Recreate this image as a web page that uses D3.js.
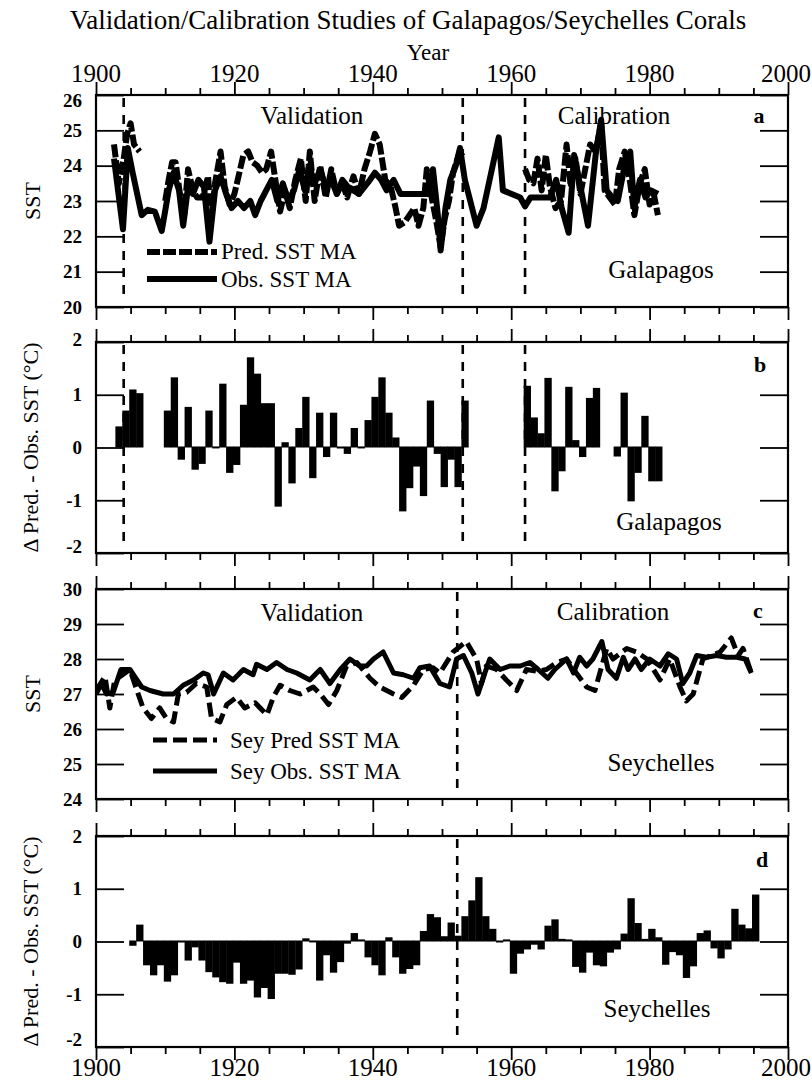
<!DOCTYPE html>
<html><head><meta charset="utf-8">
<script src="https://cdn.jsdelivr.net/npm/d3@7"></script>
<style>body{margin:0;background:#fff} svg{display:block}</style>
</head><body>
<svg id="chart" width="812" height="1082"></svg>
<script>
// ---------------- DATA ----------------
const yearTicks = [1900, 1920, 1940, 1960, 1980, 2000];
const minorYearTicks = [1905,1910,1915,1925,1930,1935,1945,1950,1955,1965,1970,1975,1985,1990,1995];
const sstTicksGal = [20, 21, 22, 23, 24, 25, 26];
const sstTicksSey = [24, 25, 26, 27, 28, 29, 30];
const diffTicks = [-2, -1, 0, 1, 2];
const galDividers = [1904, 1953, 1962];
const seyDividers = [1952.2];

// Panel a: Galapagos observed SST moving average [year, °C]
const galObs = [[1902.6,24.2],[1903.9,22.2],[1904.6,24.5],[1905.3,23.8],[1906.6,22.6],[1907.5,22.75],[1908.5,22.7],[1909.5,22.15],[1910.5,23.3],[1911.2,23.8],[1912.0,23.3],[1912.6,22.3],[1913.3,23.4],[1914.0,23.2],[1914.8,23.6],[1915.6,23.4],[1916.4,21.85],[1917.2,23.3],[1918.0,23.7],[1918.8,23.2],[1919.6,22.8],[1920.5,23.0],[1921.4,22.8],[1922.3,23.0],[1923.0,22.6],[1923.8,23.0],[1924.6,23.3],[1925.4,23.6],[1926.2,23.0],[1927.0,23.5],[1927.8,23.0],[1928.6,23.3],[1929.4,23.9],[1930.2,23.3],[1930.8,24.0],[1931.6,23.5],[1932.4,23.9],[1933.2,23.4],[1934.0,23.6],[1934.8,23.2],[1935.6,23.6],[1936.4,23.4],[1937.2,23.3],[1938.0,23.2],[1938.8,23.4],[1939.6,23.6],[1940.3,23.8],[1941.2,23.6],[1942.0,23.3],[1943.0,23.6],[1944.0,23.2],[1945.0,23.2],[1946.0,23.2],[1947.0,23.2],[1948.0,23.2],[1948.7,23.9],[1949.4,22.6],[1949.8,21.6],[1950.5,22.8],[1951.2,23.6],[1952.0,24.0],[1952.6,24.5],[1953.3,23.6],[1955.0,22.3],[1956.0,22.8],[1958.2,24.8],[1958.8,23.3],[1961.3,23.1],[1962.0,22.85],[1962.8,23.1],[1965.6,23.1],[1966.5,23.6],[1967.3,22.8],[1968.3,22.1],[1969.1,24.3],[1970.0,23.4],[1971.1,22.3],[1972.2,24.3],[1973.0,25.3],[1973.8,23.3],[1974.6,23.1],[1975.4,23.0],[1976.4,24.0],[1977.2,24.4],[1977.8,22.8],[1978.6,23.6],[1979.4,23.1],[1980.2,23.3],[1981.2,23.2]];

// Panel a: Galapagos predicted SST moving average (null = gap)
const galPred = [[1902.6,24.6],[1903.3,23.5],[1904.0,24.2],[1904.5,24.9],[1905.0,25.2],[1905.5,24.6],[1906.3,24.4],[1906.4,null],
[1910.0,23.0],[1910.5,23.6],[1911.0,24.1],[1911.5,24.1],[1912.2,23.1],[1912.7,22.5],[1913.3,23.9],[1914.0,23.3],[1914.6,23.1],[1915.4,23.1],[1916.2,23.7],[1916.6,22.4],[1917.2,23.5],[1918.0,24.4],[1918.6,23.4],[1919.3,22.9],[1920.0,23.2],[1920.6,23.7],[1921.3,24.3],[1922.0,24.4],[1922.6,24.1],[1923.3,24.0],[1924.0,23.8],[1924.6,23.9],[1925.3,24.4],[1926.0,23.5],[1926.6,22.7],[1927.3,23.3],[1928.0,22.8],[1928.8,23.6],[1929.6,24.2],[1930.3,23.0],[1930.9,24.4],[1931.6,23.0],[1932.4,24.0],[1933.2,23.1],[1934.0,23.9],[1934.8,23.2],[1935.6,23.5],[1936.3,23.1],[1937.2,23.7],[1938.0,23.2],[1938.8,23.9],[1939.6,24.4],[1940.3,24.9],[1941.0,24.6],[1941.8,23.6],[1942.6,23.4],[1943.3,22.8],[1943.8,22.3],[1944.6,22.4],[1945.3,22.6],[1946.0,22.8],[1946.6,22.3],[1947.3,22.8],[1947.8,23.9],[1948.5,23.1],[1949.2,22.4],[1949.8,21.7],[1950.4,22.5],[1951.0,23.0],[1951.6,23.8],[1952.4,24.3],[1953.2,24.4],[1953.3,null],
[1962.0,23.9],[1962.6,23.6],[1963.2,23.5],[1963.8,24.2],[1964.4,23.3],[1965.0,24.3],[1965.6,23.4],[1966.4,22.8],[1967.2,23.0],[1968.0,24.6],[1968.6,23.4],[1969.3,24.2],[1970.0,23.2],[1970.7,23.9],[1971.4,24.6],[1972.2,24.4],[1973.0,25.2],[1973.5,23.3],[1975.0,22.9],[1975.6,23.9],[1976.4,24.4],[1977.2,23.5],[1977.8,22.6],[1978.6,23.5],[1979.3,23.9],[1980.0,22.9],[1980.6,23.2],[1981.2,22.6]];

// Panel b: Galapagos Pred - Obs (annual) [year, °C]
const galDiff = [[1903,0.4],[1904,0.7],[1905,1.1],[1906,1.03],
[1910,0.7],[1911,1.33],[1912,-0.25],[1913,0.77],[1914,-0.44],[1915,-0.33],[1916,0.7],[1917,0.02],[1918,1.21],[1919,-0.5],[1920,-0.35],[1921,0.81],[1922,1.71],[1923,1.4],[1924,0.84],[1925,0.84],[1926,-1.14],[1927,0.1],[1928,-0.7],[1929,0.37],[1930,0.96],[1931,-0.6],[1932,0.66],[1933,-0.2],[1934,0.66],[1935,0.01],[1936,-0.14],[1937,0.37],[1938,0.02],[1939,0.52],[1940,0.96],[1941,1.33],[1942,0.66],[1943,0.19],[1944,-1.23],[1945,-0.79],[1946,-0.38],[1947,-0.94],[1948,0.89],[1949,-0.14],[1950,-0.77],[1951,-0.25],[1952,-0.77],[1953,0.89],
[1962,1.17],[1963,0.57],[1964,0.27],[1965,1.32],[1966,-0.85],[1967,-0.47],[1968,1.15],[1969,0.14],[1970,-0.2],[1971,0.94],[1972,1.13],
[1975,-0.19],[1976,1.04],[1977,-1.04],[1978,-0.5],[1979,0.6],[1980,-0.66],[1981,-0.66]];

// Panel c: Seychelles observed SST moving average
const seyObs = [[1900,27.0],[1900.8,27.3],[1901.5,27.0],[1902.5,27.05],[1903.6,27.7],[1904.9,27.7],[1906.6,27.2],[1907.8,27.1],[1909.7,27.0],[1911.2,27.0],[1912.6,27.25],[1914.1,27.4],[1915.5,27.6],[1916.2,27.55],[1917.0,27.0],[1918.4,27.6],[1919.8,27.4],[1921.3,27.7],[1922.7,27.55],[1923.2,27.85],[1924.7,27.7],[1926.1,27.9],[1927.6,27.7],[1929.0,27.6],[1930.9,27.4],[1932.4,27.7],[1933.8,27.3],[1935.3,27.7],[1936.7,28.0],[1938.1,27.8],[1939.1,27.8],[1940.1,28.0],[1941.5,28.2],[1943.0,27.6],[1944.4,27.55],[1945.9,27.45],[1946.8,27.75],[1948.2,27.8],[1949.7,27.3],[1951.1,27.2],[1952.1,28.0],[1953.1,28.1],[1954.3,27.6],[1955.2,27.0],[1956.2,27.6],[1956.9,28.0],[1958.4,27.7],[1959.8,27.8],[1961.3,27.8],[1962.7,27.9],[1963.9,27.7],[1965.3,27.45],[1966.3,27.7],[1968.0,28.0],[1969.0,27.6],[1969.9,28.05],[1970.9,27.8],[1971.8,28.0],[1973.1,28.5],[1974.0,27.7],[1975.2,27.45],[1976.2,28.05],[1976.9,27.7],[1977.9,28.0],[1978.8,27.7],[1980.0,28.0],[1981.5,27.8],[1982.7,28.15],[1983.9,28.0],[1984.8,27.3],[1985.8,27.6],[1986.8,28.1],[1988.2,28.05],[1989.7,28.1],[1991.1,28.05],[1992.6,28.05],[1993.8,28.0],[1994.7,27.6]];

// Panel c: Seychelles predicted SST moving average
const seyPred = [[1900,27.1],[1901.3,27.5],[1902.0,26.6],[1902.7,27.4],[1903.5,27.5],[1904.9,27.7],[1906.1,27.0],[1906.8,26.6],[1908.0,26.3],[1909.2,26.6],[1910.2,26.3],[1911.2,26.2],[1911.9,27.0],[1913.1,27.05],[1914.5,27.3],[1916.0,27.2],[1916.7,26.3],[1917.9,26.2],[1918.9,26.7],[1920.3,26.9],[1921.5,26.6],[1923.0,26.75],[1924.7,26.4],[1925.6,26.9],[1926.6,27.25],[1928.0,27.1],[1929.5,27.0],[1931.4,27.2],[1932.4,27.0],[1933.6,26.7],[1934.8,27.1],[1936.2,27.8],[1937.7,27.9],[1939.6,27.45],[1941.0,27.2],[1943.0,27.0],[1944.2,26.9],[1945.9,27.25],[1947.3,27.7],[1948.7,27.75],[1949.7,27.6],[1951.6,28.2],[1953.5,28.5],[1955.0,28.0],[1955.7,27.3],[1956.4,27.8],[1957.9,27.7],[1959.3,27.4],[1960.8,27.1],[1962.2,27.7],[1963.7,27.65],[1965.1,27.7],[1966.6,27.9],[1968.0,28.0],[1969.4,27.6],[1970.9,27.2],[1972.1,27.1],[1973.8,28.3],[1974.7,28.0],[1976.7,28.3],[1978.1,28.2],[1979.6,28.0],[1981.5,27.4],[1982.9,28.0],[1984.4,27.2],[1985.3,26.8],[1986.3,27.0],[1987.7,28.0],[1990.2,28.2],[1991.8,28.6],[1992.8,28.1],[1993.5,28.3],[1994.7,27.6]];

// Panel d: Seychelles Pred - Obs (annual)
const seyDiff = [[1905,-0.1],[1906,0.32],[1907,-0.47],[1908,-0.66],[1909,-0.47],[1910,-0.78],[1911,-0.66],[1912,-0.02],[1913,-0.38],[1914,-0.13],[1915,-0.38],[1916,-0.6],[1917,-0.7],[1918,-0.79],[1919,-0.82],[1920,-0.42],[1921,-0.82],[1922,-0.76],[1923,-1.08],[1924,-0.9],[1925,-1.11],[1926,-0.63],[1927,-0.63],[1928,-0.65],[1929,-0.55],[1930,0.06],[1931,0.02],[1932,-0.76],[1933,-0.28],[1934,-0.61],[1935,-0.41],[1936,-0.06],[1937,0.16],[1938,0.04],[1939,-0.32],[1940,-0.47],[1941,-0.66],[1942,0.08],[1943,-0.32],[1944,-0.63],[1945,-0.54],[1946,-0.47],[1947,0.2],[1948,0.52],[1949,0.46],[1950,0.1],[1951,0.36],[1952,0.11],[1953,0.48],[1954,0.78],[1955,1.22],[1956,0.48],[1957,0.24],[1958,0.0],[1959,0.04],[1960,-0.63],[1961,-0.25],[1962,-0.17],[1963,-0.08],[1964,-0.17],[1965,0.3],[1966,0.42],[1967,0.05],[1968,0.04],[1969,-0.5],[1970,-0.61],[1971,-0.23],[1972,-0.47],[1973,-0.49],[1974,-0.23],[1975,-0.17],[1976,0.15],[1977,0.82],[1978,0.35],[1979,0.05],[1980,0.24],[1981,0.08],[1982,-0.46],[1983,-0.22],[1984,-0.28],[1985,-0.71],[1986,-0.49],[1987,0.16],[1988,0.21],[1989,-0.15],[1990,-0.34],[1991,-0.17],[1992,0.62],[1993,0.32],[1994,0.25],[1995,0.89]];

// ---------------- DRAWING ----------------
const SERIF = "'Liberation Serif','Times New Roman',serif";
const svg = d3.select("#chart");
svg.append("rect").attr("width",812).attr("height",1082).attr("fill","#fff");
const x = d3.scaleLinear().domain([1900, 2000]).range([96, 788]);

svg.append("text").attr("x",408).attr("y",29).attr("text-anchor","middle")
  .attr("font-family",SERIF).attr("font-size",27).text("Validation/Calibration Studies of Galapagos/Seychelles Corals");
svg.append("text").attr("x",428).attr("y",60).attr("text-anchor","middle")
  .attr("font-family",SERIF).attr("font-size",23).text("Year");

let clipId = 0;
function panel(top, bottom, domain, ticks, yTitle, yTitleX, topShift, bottomShift) {
  const y = d3.scaleLinear().domain(domain).range([bottom, top]);
  const g = svg.append("g");
  const id = "clip" + (clipId++);
  svg.append("clipPath").attr("id", id).append("rect")
    .attr("x", x(1900)).attr("y", top).attr("width", x(2000) - x(1900)).attr("height", bottom - top);
  [[d3.axisTop, top], [d3.axisBottom, bottom]].forEach(([ax, yy]) => {
    g.append("g").attr("transform", `translate(0,${yy})`)
      .call(ax(x).tickValues(minorYearTicks).tickSize(7).tickFormat(""))
      .call(s => s.select(".domain").remove());
    g.append("g").attr("transform", `translate(0,${yy})`)
      .call(ax(x).tickValues(yearTicks).tickSize(13).tickFormat(""))
      .call(s => s.select(".domain").remove());
  });
  const fmt = d => (d < 0 ? "-" + Math.abs(d) : String(d));
  const shift = d => d === domain[1] ? topShift : (d === domain[0] ? bottomShift : 0);
  g.append("g").attr("transform", `translate(${x(1900)},0)`)
    .call(d3.axisLeft(y).tickValues(ticks).tickSize(-28).tickPadding(14).tickFormat(fmt))
    .call(s => s.select(".domain").remove())
    .call(s => s.selectAll("text").attr("font-family", SERIF).attr("font-weight", "bold").attr("font-size", 19).attr("fill", "#000")
      .attr("transform", d => shift(d) ? `translate(0,${shift(d)})` : null));
  g.append("g").attr("transform", `translate(${x(2000)},0)`)
    .call(d3.axisRight(y).tickValues(ticks).tickSize(-28).tickFormat(""))
    .call(s => s.select(".domain").remove());
  g.selectAll("line").attr("stroke", "#000").attr("stroke-width", 1.8);
  g.append("rect").attr("x", x(1900)).attr("y", top).attr("width", x(2000) - x(1900)).attr("height", bottom - top)
    .attr("fill", "none").attr("stroke", "#000").attr("stroke-width", 2.2);
  svg.append("text").attr("transform", `translate(${yTitleX},${(top + bottom) / 2}) rotate(-90)`)
    .attr("text-anchor", "middle").attr("font-family", SERIF).attr("font-size", 22).text(yTitle);
  return { y, g, clip: `url(#${id})`, top, bottom };
}

function dividers(p, years) {
  p.g.selectAll(null).data(years).join("line")
    .attr("x1", d => x(d)).attr("x2", d => x(d)).attr("y1", p.top + 3).attr("y2", p.bottom - 6)
    .attr("stroke", "#000").attr("stroke-width", 2.6).attr("stroke-dasharray", "9,8");
}
function lineSeries(p, data, width, dash) {
  const line = d3.line().defined(d => d[1] != null).x(d => x(d[0])).y(d => p.y(d[1]));
  p.g.append("path").attr("d", line(data)).attr("clip-path", p.clip)
    .attr("fill", "none").attr("stroke", "#000").attr("stroke-width", width)
    .attr("stroke-linejoin", "round").attr("stroke-dasharray", dash || null);
}
function bars(p, data) {
  p.g.append("g").selectAll("rect").data(data).join("rect")
    .attr("x", d => x(d[0] - 0.2)).attr("width", d => x(d[0] + 0.8) - x(d[0] - 0.2) + 0.4)
    .attr("y", d => Math.min(p.y(Math.max(0, d[1])), p.y(0) - 1))
    .attr("height", d => Math.max(Math.abs(p.y(d[1]) - p.y(0)), 2))
    .attr("fill", "#000");
}
function label(txt, xx, yy, opts = {}) {
  svg.append("text").attr("x", xx).attr("y", yy).attr("text-anchor", opts.anchor || "middle")
    .attr("font-family", SERIF).attr("font-size", opts.size || 25).attr("font-weight", opts.bold ? "bold" : "normal").text(txt);
}
function legendItem(p, x1, x2, yy, dash, width, txt, tx, ty) {
  p.g.append("line").attr("x1", x1).attr("x2", x2).attr("y1", yy).attr("y2", yy)
    .attr("stroke", "#000").attr("stroke-width", width).attr("stroke-dasharray", dash || null);
  label(txt, tx, ty, { anchor: "start", size: 23 });
}

// Panel a
const pa = panel(95, 307, [20, 26], sstTicksGal, "SST", 40, 5, 0);
dividers(pa, galDividers);
lineSeries(pa, galObs, 6);
lineSeries(pa, galPred, 6, "13,3");
label("Validation", 312, 124);
label("Calibration", 614, 124);
label("a", 759, 123, { bold: true, size: 22 });
label("Galapagos", 661, 278);
legendItem(pa, 147, 217, 252, "13,3", 6, "Pred. SST MA", 221, 259);
legendItem(pa, 147, 217, 279, null, 6, "Obs. SST MA", 221, 287);

// Panel b
const pb = panel(342, 553, [-2, 2], diffTicks, "\u0394 Pred. - Obs. SST (\u00b0C)", 38, -3, -7);
dividers(pb, galDividers);
bars(pb, galDiff);
label("b", 760, 372, { bold: true, size: 22 });
label("Galapagos", 669, 530);

// Panel c
const pc = panel(589, 799, [24, 30], sstTicksSey, "SST", 40, 0, 0);
dividers(pc, seyDividers);
lineSeries(pc, seyObs, 5);
lineSeries(pc, seyPred, 5, "14,6");
label("Validation", 312, 621);
label("Calibration", 613, 620);
label("c", 758, 618, { bold: true, size: 22 });
label("Seychelles", 661, 771);
legendItem(pc, 153, 217, 740, "14,6", 5, "Sey Pred SST MA", 230, 748);
legendItem(pc, 153, 217, 771, null, 5, "Sey Obs. SST MA", 230, 779);

// Panel d
const pd = panel(836, 1047, [-2, 2], diffTicks, "\u0394 Pred. - Obs. SST (\u00b0C)", 38, 0, -8);
dividers(pd, seyDividers);
bars(pd, seyDiff);
label("d", 762, 867, { bold: true, size: 22 });
label("Seychelles", 657, 1017);

// Year labels top & bottom (last label kept inside the page edge, as in the reference)
function yearLabels(yy) {
  svg.append("g").selectAll("text").data(yearTicks).join("text")
    .attr("x", d => d === 2000 ? 811 : x(d)).attr("y", yy)
    .attr("text-anchor", d => d === 2000 ? "end" : "middle")
    .attr("font-family", SERIF).attr("font-size", 25).text(d => d);
}
yearLabels(82);
yearLabels(1076);
</script>
</body></html>
